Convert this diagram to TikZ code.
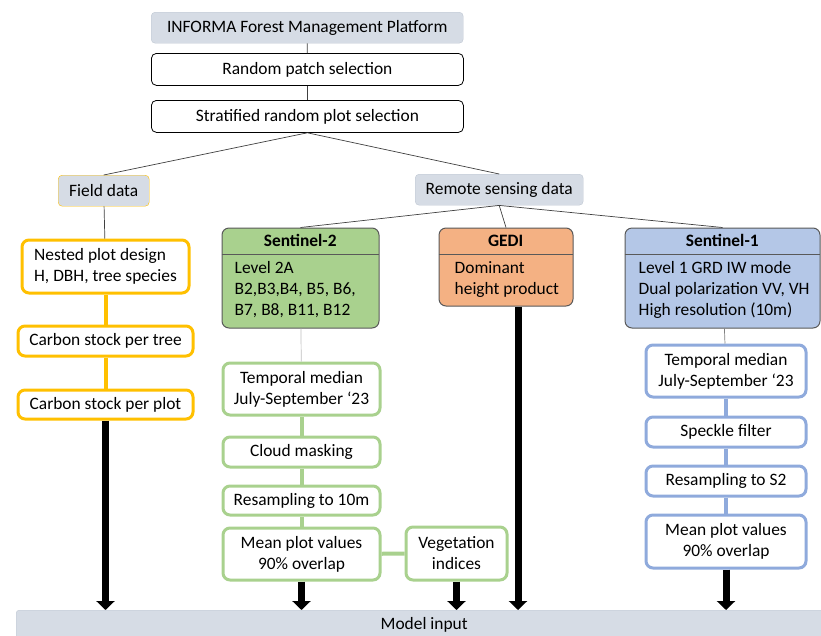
\documentclass[tikz,border=0pt]{standalone}
\usepackage{fontspec}
\setmainfont{Carlito}
\usetikzlibrary{positioning, arrows.meta}
\definecolor{boxgray}{HTML}{D6DCE5}
\definecolor{edgegray}{HTML}{BFC7D2}
\definecolor{fieldorange}{HTML}{FFC000}
\definecolor{sentgreen}{HTML}{A9D18E}
\definecolor{gediorange}{HTML}{F4B183}
\definecolor{sentblue}{HTML}{B4C7E7}
\definecolor{chainblue}{HTML}{8FAADC}
\definecolor{sensoredge}{HTML}{595959}

\begin{document}
\begin{tikzpicture}[x=1pt, y=-1pt,
    every node/.style={font=\fontsize{17.4}{21}\selectfont, inner sep=0pt},
    headbox/.style={draw=edgegray, fill=boxgray, rounded corners=4pt, anchor=north west},
    selbox/.style={draw=black, fill=white, rounded corners=5pt, line width=0.8pt, anchor=north west},
    chainbox/.style={fill=white, line width=3pt, rounded corners=7pt, anchor=north west, align=center},
    sensor/.style={draw=sensoredge, line width=1pt, rounded corners=7pt, anchor=north west},
    sensorhead/.style={anchor=north west, font=\fontsize{17.4}{21}\selectfont\bfseries, minimum height=26},
    sensorbody/.style={below right=7pt and 13pt of #1, align=left},
    link/.style={draw=black!75, line width=0.7pt},
    bigarrow/.style={line width=7pt, -{Triangle[width=18pt, length=9pt]}},
  ]
  \useasboundingbox (0,0) rectangle (821,635);
  \clip (0,0) rectangle (821,635);

  % selection steps
  \node[headbox, minimum width=312, minimum height=31] (informa) at (151,12) {INFORMA Forest Management Platform};
  \node[selbox, minimum width=312, minimum height=32] (patch) at (151,53) {Random patch selection};
  \node[selbox, minimum width=312, minimum height=32] (plots) at (151,100) {Stratified random plot selection};
  \node[headbox, draw=fieldorange, minimum width=91, minimum height=31] (field) at (58,175) {Field data};
  \node[headbox, minimum width=168, minimum height=31] (remote) at (415,174) {Remote sensing data};

  \draw[link] (informa) -- (patch);
  \draw[link] (patch) -- (plots);
  \draw[link] (plots.south) -- (field.north);
  \draw[link] (plots.south) -- (remote.north);

  % field data
  \node[chainbox, draw=fieldorange, align=left, minimum width=167, minimum height=53] (nested) at (20.5,238.5) {Nested plot design\\H, DBH, tree species};
  \node[chainbox, draw=fieldorange, minimum width=175, minimum height=30] (tree) at (16.5,324.5) {Carbon stock per tree};
  \node[chainbox, draw=fieldorange, minimum width=175, minimum height=29] (plot) at (16.5,388.5) {Carbon stock per plot};

  \draw[link] (field) -- (nested);
  \draw[fieldorange, line width=4pt] (nested) -- (tree);
  \draw[fieldorange, line width=4pt] (tree) -- (plot);

  % sensors
  \node[sensor, fill=sentgreen, minimum width=157, minimum height=100] (s2) at (221.5,227.5) {};
  \node[sensorhead, minimum width=157] (s2h) at (s2.north west) {Sentinel-2};
  \draw[sensoredge] (s2h.south west) -- (s2h.south east);
  \node[sensorbody=s2h.south west] (s2b) {Level 2A\\B2,B3,B4, B5, B6,\\B7, B8, B11, B12};

  \node[sensor, fill=gediorange, minimum width=134, minimum height=78] (gedi) at (438.5,227.5) {};
  \node[sensorhead, minimum width=134] (gedih) at (gedi.north west) {GEDI};
  \draw[sensoredge] (gedih.south west) -- (gedih.south east);
  \node[sensorbody=gedih.south west, xshift=3pt] (gedib) {Dominant\\height product};

  \node[sensor, fill=sentblue, minimum width=195, minimum height=100] (s1) at (624.5,227.5) {};
  \node[sensorhead, minimum width=195] (s1h) at (s1.north west) {Sentinel-1};
  \draw[sensoredge] (s1h.south west) -- (s1h.south east);
  \node[sensorbody=s1h.south west, xshift=1pt] (s1b) {Level 1 GRD IW mode\\Dual polarization VV, VH\\High resolution (10m)};

  \draw[link] (remote.south) -- (s2.north);
  \draw[link] (remote.south) -- (gedi.north);
  \draw[link] (remote.south) -- (s1.north);

  % Sentinel-2 processing
  \node[chainbox, draw=sentgreen, minimum width=157, minimum height=52] (s2tm) at (221.5,361.5) {Temporal median\\July-September `23};
  \node[chainbox, draw=sentgreen, minimum width=157, minimum height=30] (cloud) at (221.5,435.5) {Cloud masking};
  \node[chainbox, draw=sentgreen, minimum width=157, minimum height=29] (s2res) at (221.5,484.5) {Resampling to 10m};
  \node[chainbox, draw=sentgreen, minimum width=157, minimum height=52] (s2mean) at (221.5,526.5) {Mean plot values\\90\% overlap};
  \node[chainbox, draw=sentgreen, minimum width=101, minimum height=53] (veg) at (404.5,525.5) {Vegetation\\indices};

  \draw[black!25, line width=0.7pt] (s2) -- (s2tm);
  \draw[sentgreen, line width=4pt] (s2tm) -- (cloud);
  \draw[sentgreen, line width=4pt] (cloud) -- (s2res);
  \draw[sentgreen, line width=4pt] (s2res) -- (s2mean);
  \draw[sentgreen, line width=4pt] (s2mean) -- (veg);

  % Sentinel-1 processing
  \node[chainbox, draw=chainblue, minimum width=160, minimum height=52] (s1tm) at (644.5,343.5) {Temporal median\\July-September `23};
  \node[chainbox, draw=chainblue, minimum width=160, minimum height=30] (speckle) at (644.5,415.5) {Speckle filter};
  \node[chainbox, draw=chainblue, minimum width=160, minimum height=30] (s1res) at (644.5,464.5) {Resampling to S2};
  \node[chainbox, draw=chainblue, minimum width=160, minimum height=53] (s1mean) at (644.5,513.5) {Mean plot values\\90\% overlap};

  \draw[black!50, line width=0.7pt] (s1) -- (s1tm);
  \draw[chainblue, line width=4pt] (s1tm) -- (speckle);
  \draw[chainblue, line width=4pt] (speckle) -- (s1res);
  \draw[chainblue, line width=4pt] (s1res) -- (s1mean);

  % model input
  \node[headbox, rounded corners=3pt, minimum width=816, minimum height=30] (model) at (16,610) {Model input};

  \draw[bigarrow] (plot.south) -- (plot.south |- model.north);
  \draw[bigarrow] (s2mean.south) -- (s2mean.south |- model.north);
  \draw[bigarrow] (veg.south) -- (veg.south |- model.north);
  \draw[bigarrow] ([xshift=12pt]gedi.south) -- ([xshift=12pt]gedi.south |- model.north);
  \draw[bigarrow] (s1mean.south) -- (s1mean.south |- model.north);
\end{tikzpicture}
\end{document}
